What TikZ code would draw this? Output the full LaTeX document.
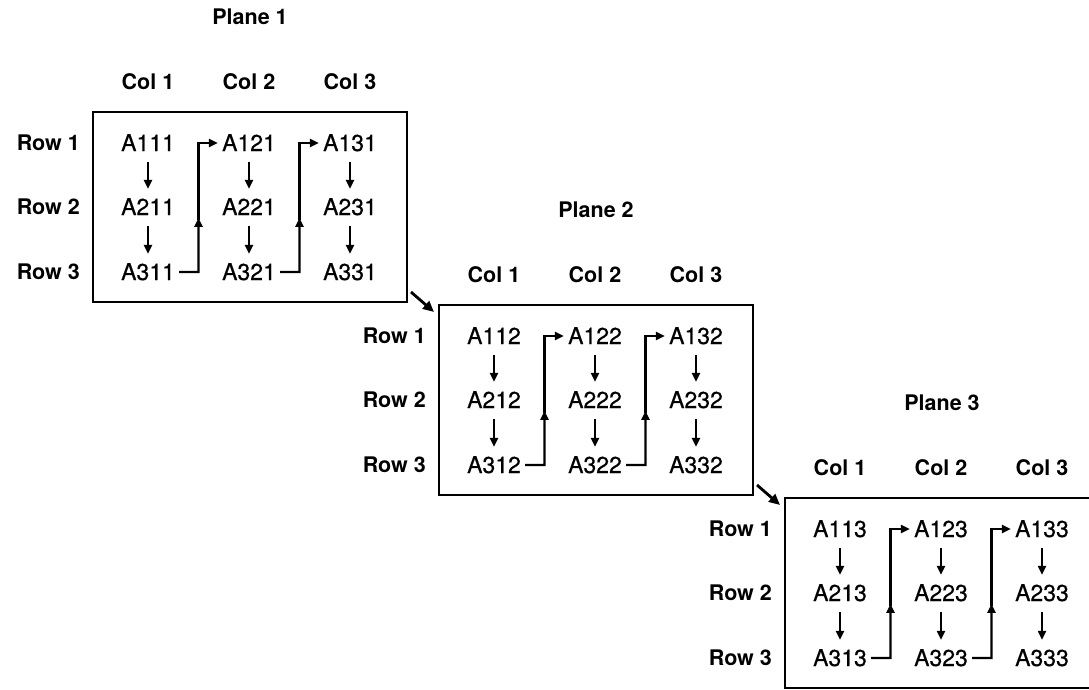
\documentclass[tikz,border=0pt]{standalone}
\usepackage{fontspec}
\setmainfont{TeX Gyre Heros}
\newfontfamily\cellfont[FakeBold=0.4]{TeX Gyre Heros}
\usetikzlibrary{calc,arrows.meta}

\tikzset{
    cell/.style={font=\cellfont\fontsize{23}{27}\selectfont, inner sep=4pt, text height=16pt, text depth=0pt},
    head/.style={font=\fontsize{21.5}{26}\selectfont\bfseries, inner sep=0pt, text height=15.5pt, text depth=0pt},
    frame/.style={line width=2.4pt},
    down/.style={-{Triangle[length=9pt,width=8pt]}, line width=2.2pt, shorten <=7pt, shorten >=6pt},
    link/.style={-{Triangle[length=9pt,width=8pt]}, line width=2.2pt},
    jump/.style={-{Triangle[length=11pt,width=10pt]}, line width=2.8pt}
}

\begin{document}
\begin{tikzpicture}[x=1pt, y=-1pt]
    \useasboundingbox (0,0) rectangle (1089,689);

    \foreach \p in {1,2,3}{
    \begin{scope}[shift={({(\p-1)*346},{(\p-1)*193})}]
        % Corners of the frame of this plane
        \coordinate (nw\p) at (93,112);
        \coordinate (se\p) at (407,302);
        \draw[frame] (nw\p) rectangle (se\p);

        \node[head] (plane\p) at (250,17) {Plane \p};

        % Row labels
        \foreach \r/\y in {1/143,2/207,3/272}
            \node[head, anchor=east] (row\r\p) at (80,\y) {Row \r};

        % Column labels and elements
        \foreach \c/\x in {1/148,2/249,3/350}{
            \node[head] (col\c\p) at (\x,82) {Col \c};
            \foreach \r/\y in {1/143,2/207,3/272}
                \node[cell] (A\r\c\p) at (\x,\y) {A\r\c\p};
            \draw[down] (A1\c\p) -- (A2\c\p);
            \draw[down] (A2\c\p) -- (A3\c\p);
        }

        % back up to the top of the next column
        \foreach \c/\k in {1/2,2/3}{
            \coordinate (b\c\p) at ($(A3\c\p)!0.5!(A3\k\p)$);
            \coordinate (t\c\p) at ($(A1\c\p)!0.5!(A1\k\p)$);
            \draw[link] (A3\c\p.east) -- (b\c\p) -- ($(b\c\p)!0.42!(t\c\p)$);
            \draw[link] ($(b\c\p)!0.4!(t\c\p)$) -- (t\c\p) -- (A1\k\p.west);
        }
    \end{scope}
    }

    % on to the next plane
    \draw[jump] ($(se1)+(4,-10)$) -- ($(nw2)+(-5,7)$);
    \draw[jump] ($(se2)+(4,-10)$) -- ($(nw3)+(-5,7)$);

\end{tikzpicture}
\end{document}
